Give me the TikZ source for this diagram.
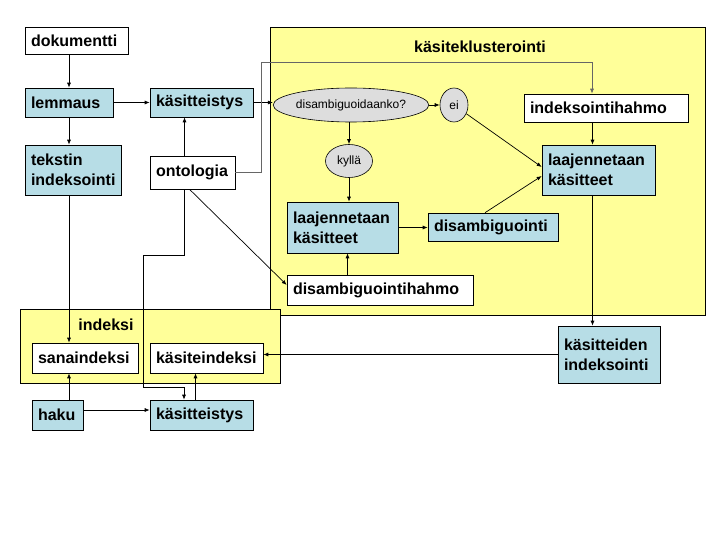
\documentclass[tikz,border=0pt]{standalone}
\usepackage{fontspec}
\setmainfont{Liberation Sans}
\usetikzlibrary{positioning,shapes.geometric,arrows.meta}

\definecolor{boxblue}{RGB}{183,221,230}
\definecolor{areayellow}{RGB}{255,255,153}
\definecolor{ellgrey}{RGB}{221,221,221}

\begin{document}
\begin{tikzpicture}[x=1pt,y=-1pt,
		whitebox/.style={draw,fill=white,line width=0.6pt,inner xsep=6pt,inner ysep=0pt,align=left,font=\bfseries\fontsize{16}{20}\selectfont},
		bluebox/.style={whitebox,fill=boxblue},
		greynode/.style={ellipse,draw,fill=ellgrey,line width=0.6pt,inner sep=0pt,font=\fontsize{12}{14}\selectfont},
		yellowarea/.style={draw,fill=areayellow,line width=0.6pt},
		arr/.style={-{Latex[length=5pt,width=4pt]},line width=0.7pt}]
		\useasboundingbox (0,0) rectangle (720,540);

		% areas
		\draw[yellowarea] (270,27) rectangle (705,315);
		\draw[yellowarea] (20,309) rectangle (280,383);
		\node[font=\bfseries\fontsize{16}{20}\selectfont]	(klust)	at (480,47)		{käsiteklusterointi};
		\node[font=\bfseries\fontsize{16}{20}\selectfont]	(ind)	at (106,325)	{indeksi};

		% left column
		\node[whitebox,text width=91pt,minimum height=27pt]	(dok)	at (76.5,40.5)	{dokumentti};
		\node[bluebox,text width=76pt,minimum height=29pt]	(lem)	at (69,102.5)	{lemmaus};
		\node[bluebox,text width=84pt,minimum height=50pt]	(teks)	at (73,170)		{tekstin\\indeksointi};
		\node[bluebox,text width=91pt,minimum height=29pt]	(kas1)	at (201.5,102.5)	{käsitteistys};
		\node[whitebox,text width=73pt,minimum height=33pt]	(ont)	at (192.5,172.5)	{ontologia};

		% clustering
		\node[greynode,minimum width=131pt,minimum height=34pt]	(dis)	at (351,105)	{disambiguoidaanko?};
		\node[greynode,minimum width=28pt,minimum height=34pt]	(ei)	at (454,105)	{ei};
		\node[greynode,minimum width=47pt,minimum height=33pt]	(kyl)	at (349,161)	{kyllä};
		\node[whitebox,text width=152pt,minimum height=28pt]	(ihahmo)	at (606,108)	{indeksointihahmo};
		\node[bluebox,text width=101pt,minimum height=50pt]	(laajR)	at (598.5,170)	{laajennetaan\\käsitteet};
		\node[bluebox,text width=99pt,minimum height=51pt]	(laajL)	at (342.5,227.5)	{laajennetaan\\käsitteet};
		\node[bluebox,text width=118pt,minimum height=28pt]	(dsb)	at (493,227)	{disambiguointi};
		\node[whitebox,text width=174pt,minimum height=30pt]	(dhahmo)	at (380,290)	{disambiguointihahmo};

		% index
		\node[whitebox,text width=94pt,minimum height=30pt]	(sana)	at (85,358)		{sanaindeksi};
		\node[whitebox,text width=101pt,minimum height=30pt]	(kind)	at (206.5,358)	{käsiteindeksi};
		\node[bluebox,text width=39pt,minimum height=30pt]	(haku)	at (57.5,415)	{haku};
		\node[bluebox,text width=91pt,minimum height=30pt]	(kas2)	at (201.5,415)	{käsitteistys};
		\node[bluebox,text width=90pt,minimum height=57pt]	(kin)	at (609,354.5)	{käsitteiden\\indeksointi};

		\coordinate (bend1) at (143,255);
		\coordinate (bend2) at (184,387);
		\coordinate (bend3) at (261,62);

		\draw[arr] (dok.south -| lem.north) -- (lem.north);
		\draw[arr] (lem.east) -- (kas1.west);
		\draw[arr] (lem.south) -- (lem.south |- teks.north);
		\draw[arr] (kas1.east) -- (kas1.east -| dis.west);
		\draw[arr] ([xshift=-8pt]ont.north) -- ([xshift=-8pt]ont.north |- kas1.south);
		\draw[arr,draw=black!60] (ont.east) -| (bend3) -| ([xshift=-14pt]ihahmo.north);
		\draw[arr] (dis) -- (ei);
		\draw[arr] (kyl.north |- dis.south) -- (kyl.north);
		\draw[arr] (ei) -- ([yshift=3pt]laajR.west);
		\draw[arr] (ihahmo.south -| laajR.north) ++(-6pt,0) -- ([xshift=-6pt]laajR.north);
		\draw[arr] (kyl.south) -- (kyl.south |- laajL.north);
		\draw[arr] (laajL.east) -- (laajL.east -| dsb.west);
		\draw[arr] ([xshift=-8pt]dsb.north) -- ([yshift=-6pt]laajR.west);
		\draw[arr] ([xshift=5pt]laajL.south |- dhahmo.north) -- ([xshift=5pt]laajL.south);
		\draw[arr] ([xshift=-3pt]ont.south) -- ([yshift=5pt]dhahmo.west);
		\draw[arr] ([xshift=-6pt]laajR.south) -- ([xshift=-6pt]laajR.south |- kin.north);
		\draw[arr] (kin.west) -- (kin.west -| kind.east);
		\draw[arr] (teks.south -| lem.south) -- (sana.north -| lem.south);
		\draw[arr] (haku.north -| lem.south) -- (sana.south -| lem.south);
		\draw[arr] ([yshift=5pt]haku.east) -- ([yshift=5pt]kas2.west);
		\draw[arr] ([xshift=-6pt]kas2.north) -- ([xshift=-6pt]kas2.north |- kind.south);
		\draw[arr] ([xshift=-8pt]ont.south) |- (bend1) |- (bend2) -- (bend2 |- kas2.north);
	\end{tikzpicture}
\end{document}
